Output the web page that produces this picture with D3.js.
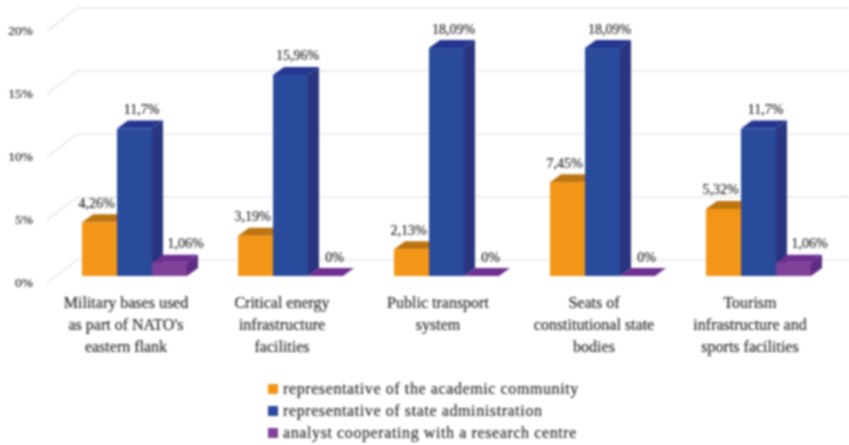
<!DOCTYPE html>
<html><head><meta charset="utf-8">
<script src="https://cdnjs.cloudflare.com/ajax/libs/d3/7.8.5/d3.min.js"></script>
<style>html,body{margin:0;padding:0;background:#fff}svg{display:block;filter:blur(0.8px)}text{font-family:"Liberation Serif",serif;fill:#2b2b2b;stroke:#2b2b2b;stroke-width:.2px}</style>
</head><body><div id="c"></div>
<script>
const categories=[["Military bases used","as part of NATO's","eastern flank"],["Critical energy","infrastructure","facilities"],["Public transport","system"],["Seats of","constitutional state","bodies"],["Tourism","infrastructure and","sports facilities"]];
const seriesNames=["representative of the academic community","representative of state administration","analyst cooperating with a research centre"];
const academic=[4.26,3.19,2.13,7.45,5.32];
const administration=[11.7,15.96,18.09,18.09,11.7];
const analyst=[1.06,0,0,0,1.06];
const academicLabels=["4,26%","3,19%","2,13%","7,45%","5,32%"];
const administrationLabels=["11,7%","15,96%","18,09%","18,09%","11,7%"];
const analystLabels=["1,06%","0%","0%","0%","1,06%"];
const yTicks=[0,5,10,15,20];
const colors=[{f:"#F39517",t:"#BD7511",s:"#BD7511"},{f:"#2A4B9B",t:"#24368F",s:"#2A3480"},{f:"#7F4199",t:"#6F2F8F",s:"#5F2B84"}];
const values=[academic,administration,analyst], labels=[academicLabels,administrationLabels,analystLabels];
const W=849,H=445;
const svg=d3.select("#c").append("svg").attr("width",W).attr("height",H);
const x=d3.scaleBand().domain(categories.map((d,i)=>i)).range([48,828]);
const inner=d3.scaleBand().domain([0,1,2]).range([-44,61]);
const y=d3.scaleLinear().domain([0,20]).range([276,24]);
const dx=11,dy=-8,wallX=30,wallY=-23,wallBase=7;
const grid=svg.append("g");
yTicks.forEach(t=>{
  const yy=y(t)+wallBase;
  grid.append("path").attr("d",`M47,${yy}L${47+wallX},${yy+wallY}L849,${yy+wallY}`).attr("fill","none").attr("stroke","#e9e9e9").attr("stroke-width",1.6);
  svg.append("text").attr("x",33).attr("y",yy+4).attr("text-anchor","end").attr("font-size",13.5).text(t+"%");
});
const labelOff=[-3,7,16];
categories.forEach((c,i)=>{
  const gx=x(i)+x.bandwidth()/2;
  const g=svg.append("g");
  [0,1,2].forEach(s=>{
    const x0=gx+inner(s),w=inner.bandwidth(),v=values[s][i],top=y(v),base=y(0),col=colors[s];
    g.append("path").attr("d",`M${x0+w},${top}L${x0+w+dx},${top+dy}L${x0+w+dx},${base+dy}L${x0+w},${base}Z`).attr("fill",col.s);
    g.append("path").attr("d",`M${x0},${top}L${x0+dx},${top+dy}L${x0+w+dx},${top+dy}L${x0+w},${top}Z`).attr("fill",col.t);
    g.append("rect").attr("x",x0).attr("y",top).attr("width",w).attr("height",base-top).attr("fill",col.f);
  });
  [0,1,2].forEach(s=>{
    const v=values[s][i];
    const off=(s===2&&v===0)?9:labelOff[s];
    svg.append("text").attr("x",gx+inner(s)+inner.bandwidth()/2+off).attr("y",y(v)+dy-6.5).attr("text-anchor","middle").attr("font-size",14).text(labels[s][i]);
  });
  c.forEach((ln,k)=>svg.append("text").attr("x",gx).attr("y",308+k*22).attr("text-anchor","middle").attr("font-size",16).text(ln));
});
seriesNames.forEach((n,i)=>{
  const yy=389+i*22;
  svg.append("rect").attr("x",268).attr("y",yy-5).attr("width",10).attr("height",10).attr("fill",colors[i].f);
  svg.append("text").attr("x",283).attr("y",yy+4.5).attr("font-size",16).attr("letter-spacing",0.6).text(n);
});
</script></body></html>
